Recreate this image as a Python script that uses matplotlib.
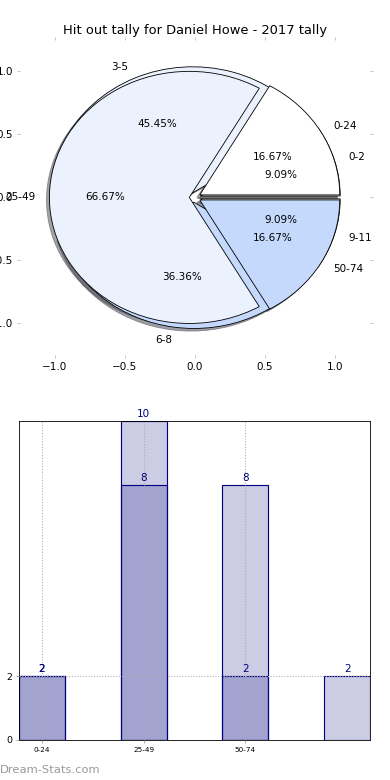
import matplotlib
matplotlib.use('Agg')
import matplotlib.pyplot as plt
import numpy as np

# ---- data ----
title = 'Hit out tally for Daniel Howe - 2017 tally'
outer_labels = ['0-2', '3-5', '6-8', '9-11']
outer_values = [2, 10, 8, 2]
inner_labels = ['0-24', '25-49', '50-74']
inner_values = [2, 8, 2]
bar_light_values = [2, 10, 8, 2]
bar_dark_values = [2, 8, 2]
bar_tick_labels = ['0-24', '25-49', '50-74']
bar_yticks = [0, 2]

pie_colors = ['white', '#ebf1fd', '#c5d9fd']
navy_fill = (0.0, 0.0, 0.5, 0.2)

fig = plt.figure(figsize=(5.2, 10.4), dpi=75)
ax1 = fig.add_axes([0.0513, 0.5449, 0.897, 0.404])
ax2 = fig.add_axes([0.0487, 0.0513, 0.9, 0.409])

wp = dict(edgecolor='black', linewidth=0.8)
ax1.pie(outer_values, labels=outer_labels, colors=pie_colors, autopct='%1.2f%%',
        shadow=True, explode=[0.04] * len(outer_values), wedgeprops=wp, frame=True,
        textprops=dict(fontsize=10))
ax1.pie(inner_values, labels=inner_labels, colors=pie_colors, autopct='%1.2f%%',
        shadow=True, explode=[0.04] * len(inner_values), wedgeprops=wp, frame=True,
        textprops=dict(fontsize=10))
ax1.set_aspect('auto')
ax1.set_xlim(-1.25, 1.25)
ax1.set_ylim(-1.25, 1.25)
ticks = [-1.0, -0.5, 0.0, 0.5, 1.0]
ax1.set_xticks(ticks)
ax1.set_yticks(ticks)
for s in ax1.spines.values():
    s.set_visible(False)
ax1.tick_params(which='both', top=True, right=True, color='#bbbbbb', length=3,
                labelsize=10)
ax1.set_title(title, fontsize=12.5)

# ---- bars ----
x_light = np.arange(len(bar_light_values))
x_dark = np.arange(len(bar_dark_values))
ax2.bar(x_light, bar_light_values, width=0.45, color=navy_fill, edgecolor='navy',
        linewidth=1.1)
ax2.bar(x_dark, bar_dark_values, width=0.45, color=navy_fill, edgecolor='navy',
        linewidth=1.1)
for xs, vs in ((x_light, bar_light_values), (x_dark, bar_dark_values)):
    for xi, v in zip(xs, vs):
        ax2.annotate(str(v), (xi, v), xytext=(0, 2), textcoords='offset points',
                     ha='center', va='bottom', color='navy', fontsize=10,
                     annotation_clip=False)
ax2.margins(x=0, y=0)
ax2.set_xticks(x_dark)
ax2.set_xticklabels(bar_tick_labels, fontsize=7)
ax2.set_yticks(bar_yticks)
ax2.tick_params(axis='y', labelsize=9)
ax2.tick_params(color='#999999', length=3)
ax2.grid(True, linestyle=':', color='#aaaaaa', linewidth=1)
ax2.set_axisbelow(False)
for s in ax2.spines.values():
    s.set_color('black')

fig.text(0.0, 1 - 770 / 780, 'Dream-Stats.com', color='#999999', fontsize=11,
         ha='left', va='center')

fig.savefig('out.png', dpi=75)
